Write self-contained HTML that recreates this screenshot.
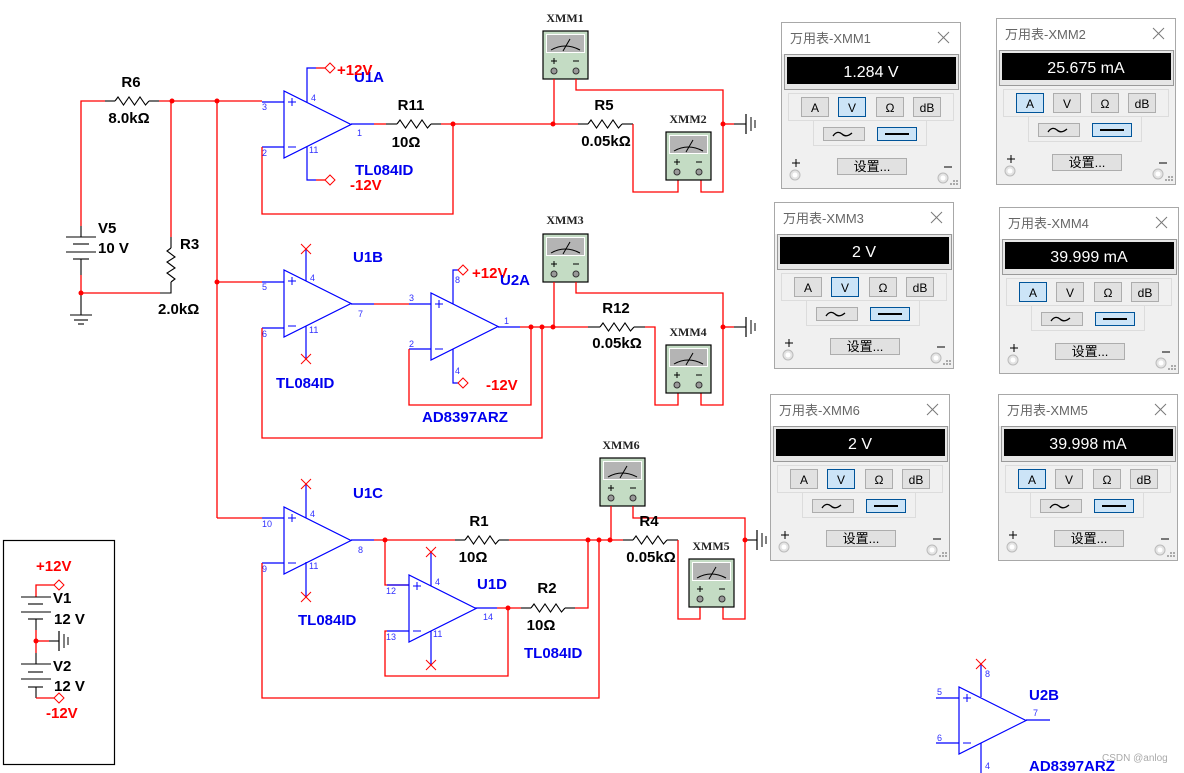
<!DOCTYPE html>
<html><head><meta charset="utf-8"><style>
html,body{margin:0;padding:0;background:#fff;}
svg{display:block;}
.w{stroke:#f00;stroke-width:1.3;fill:none}
.b{stroke:#00f;stroke-width:1.2;fill:none}
.k{stroke:#000;stroke-width:1.1;fill:none}
.lb{font-family:"Liberation Sans",sans-serif;font-weight:bold;font-size:15px;fill:#000}
.bl{font-family:"Liberation Sans",sans-serif;font-weight:bold;font-size:15px;fill:#0000ee}
.rd{font-family:"Liberation Sans",sans-serif;font-weight:bold;font-size:15px;fill:#f00}
.pn{font-family:"Liberation Sans",sans-serif;font-size:9px;fill:#3030ff}
.xm{font-family:"Liberation Serif",serif;font-weight:bold;font-size:12px;fill:#222}
.pt{font-family:"Liberation Sans","Noto Sans CJK SC",sans-serif;font-size:13px;fill:#666}
.pv{font-family:"Liberation Sans",sans-serif;font-size:16px;fill:#fff}
.bt{font-family:"Liberation Sans",sans-serif;font-size:12px;fill:#000}
.st{font-family:"Liberation Sans","Noto Sans CJK SC",sans-serif;font-size:13px;fill:#000}
</style></head><body>
<svg width="1184" height="773" viewBox="0 0 1184 773" xmlns="http://www.w3.org/2000/svg">
<defs>
<polyline id="rz" points="0,0 3,-4 8.5,4 14,-4 19.5,4 25,-4 30.5,4 34,0" fill="none" stroke="#000" stroke-width="1.1"/>
<g id="oa"><polygon points="0,0 0,67 67,33.5" fill="none" stroke="#00f" stroke-width="1.2"/>
<line x1="4" y1="11" x2="12" y2="11" stroke="#00f"/><line x1="8" y1="7" x2="8" y2="15" stroke="#00f"/>
<line x1="4" y1="56" x2="12" y2="56" stroke="#00f"/></g>
<g id="mm"><rect x="0" y="0" width="45" height="48" fill="#c4dcc4" stroke="#000" stroke-width="1.2"/>
<rect x="3.5" y="3.5" width="38" height="18" fill="#b4b4b4" stroke="#fff" stroke-width="1"/>
<path d="M8,19 Q22,11 37,19" fill="none" stroke="#000"/><line x1="20" y1="20" x2="27" y2="8" stroke="#000"/>
<line x1="8" y1="30" x2="14" y2="30" stroke="#000"/><line x1="11" y1="27" x2="11" y2="33" stroke="#000"/>
<line x1="30" y1="30" x2="36" y2="30" stroke="#000"/>
<circle cx="11" cy="40" r="3" fill="#999" stroke="#333"/><circle cx="33" cy="40" r="3" fill="#999" stroke="#333"/></g>
<g id="gnd"><line x1="0" y1="-10" x2="0" y2="10" stroke="#000" stroke-width="1.2"/><line x1="5" y1="-7" x2="5" y2="7" stroke="#000"/><line x1="9" y1="-4" x2="9" y2="4" stroke="#000"/></g>
<g id="xr"><line x1="-5" y1="-5" x2="5" y2="5" stroke="#f00"/><line x1="5" y1="-5" x2="-5" y2="5" stroke="#f00"/></g>
<polygon id="dm" points="0,0 5,-5 10,0 5,5" fill="#fff" stroke="#f00"/>
<g id="pb">
<rect x="0.5" y="0.5" width="179" height="166" fill="#f0f0f0" stroke="#a8a8a8"/>
<rect x="1" y="1" width="178" height="31" fill="#fff"/>
<line x1="157" y1="10" x2="168" y2="21" stroke="#777"/><line x1="168" y1="10" x2="157" y2="21" stroke="#777"/>
<rect x="3.5" y="32.5" width="174" height="35" fill="#e6e6e6" stroke="#999"/>
<rect x="6" y="35" width="169" height="27" fill="#000"/>
<rect x="7.5" y="71.5" width="165" height="27" fill="none" stroke="#dcdcdc"/>
<rect x="32.5" y="98.5" width="113" height="25" fill="none" stroke="#dcdcdc"/>
<rect x="20.5" y="75.5" width="27" height="19" fill="#e1e1e1" stroke="#adadad"/>
<rect x="57.5" y="75.5" width="27" height="19" fill="#e1e1e1" stroke="#adadad"/>
<rect x="95.5" y="75.5" width="27" height="19" fill="#e1e1e1" stroke="#adadad"/>
<rect x="132.5" y="75.5" width="27" height="19" fill="#e1e1e1" stroke="#adadad"/>
<rect x="42.5" y="105.5" width="41" height="13" fill="#e1e1e1" stroke="#adadad"/>
<path d="M52,114 q4,-6 9,-2 q4,4 10,-1" fill="none" stroke="#000" stroke-width="1.3"/>
<rect x="96.5" y="105.5" width="39" height="13" fill="#cce4f7" stroke="#005499"/>
<line x1="104" y1="112" x2="128" y2="112" stroke="#000" stroke-width="2"/>
<rect x="56.5" y="136.5" width="69" height="16" fill="#e1e1e1" stroke="#adadad"/>
<line x1="11" y1="141" x2="19" y2="141" stroke="#000"/><line x1="15" y1="137" x2="15" y2="145" stroke="#000"/>
<circle cx="14" cy="153" r="5" fill="#e4e4e4" stroke="#bbb"/><circle cx="14" cy="153" r="2.5" fill="#fff"/>
<line x1="163" y1="145" x2="171" y2="145" stroke="#000"/>
<circle cx="162" cy="156" r="5" fill="#e4e4e4" stroke="#bbb"/><circle cx="162" cy="156" r="2.5" fill="#fff"/>
<g fill="#aaa"><rect x="172" y="158" width="2" height="2"/><rect x="175" y="158" width="2" height="2"/><rect x="169" y="161" width="2" height="2"/><rect x="172" y="161" width="2" height="2"/><rect x="175" y="161" width="2" height="2"/></g>
</g>
</defs>

<!-- Panels -->
<g transform="translate(781,22)"><use href="#pb"/><rect x="57.5" y="75.5" width="27" height="19" fill="#cce4f7" stroke="#005499"/>
<text class="pt" x="9" y="21">万用表-XMM1</text><text class="pv" x="90" y="55" text-anchor="middle">1.284 V</text>
<text class="bt" x="34" y="90" text-anchor="middle">A</text><text class="bt" x="71" y="90" text-anchor="middle">V</text><text class="bt" x="109" y="90" text-anchor="middle">Ω</text><text class="bt" x="146" y="90" text-anchor="middle">dB</text>
<text class="st" x="91" y="149" text-anchor="middle">设置...</text></g>
<g transform="translate(996,18)"><use href="#pb"/><rect x="20.5" y="75.5" width="27" height="19" fill="#cce4f7" stroke="#005499"/>
<text class="pt" x="9" y="21">万用表-XMM2</text><text class="pv" x="90" y="55" text-anchor="middle">25.675 mA</text>
<text class="bt" x="34" y="90" text-anchor="middle">A</text><text class="bt" x="71" y="90" text-anchor="middle">V</text><text class="bt" x="109" y="90" text-anchor="middle">Ω</text><text class="bt" x="146" y="90" text-anchor="middle">dB</text>
<text class="st" x="91" y="149" text-anchor="middle">设置...</text></g>
<g transform="translate(774,202)"><use href="#pb"/><rect x="57.5" y="75.5" width="27" height="19" fill="#cce4f7" stroke="#005499"/>
<text class="pt" x="9" y="21">万用表-XMM3</text><text class="pv" x="90" y="55" text-anchor="middle">2 V</text>
<text class="bt" x="34" y="90" text-anchor="middle">A</text><text class="bt" x="71" y="90" text-anchor="middle">V</text><text class="bt" x="109" y="90" text-anchor="middle">Ω</text><text class="bt" x="146" y="90" text-anchor="middle">dB</text>
<text class="st" x="91" y="149" text-anchor="middle">设置...</text></g>
<g transform="translate(999,207)"><use href="#pb"/><rect x="20.5" y="75.5" width="27" height="19" fill="#cce4f7" stroke="#005499"/>
<text class="pt" x="9" y="21">万用表-XMM4</text><text class="pv" x="90" y="55" text-anchor="middle">39.999 mA</text>
<text class="bt" x="34" y="90" text-anchor="middle">A</text><text class="bt" x="71" y="90" text-anchor="middle">V</text><text class="bt" x="109" y="90" text-anchor="middle">Ω</text><text class="bt" x="146" y="90" text-anchor="middle">dB</text>
<text class="st" x="91" y="149" text-anchor="middle">设置...</text></g>
<g transform="translate(770,394)"><use href="#pb"/><rect x="57.5" y="75.5" width="27" height="19" fill="#cce4f7" stroke="#005499"/>
<text class="pt" x="9" y="21">万用表-XMM6</text><text class="pv" x="90" y="55" text-anchor="middle">2 V</text>
<text class="bt" x="34" y="90" text-anchor="middle">A</text><text class="bt" x="71" y="90" text-anchor="middle">V</text><text class="bt" x="109" y="90" text-anchor="middle">Ω</text><text class="bt" x="146" y="90" text-anchor="middle">dB</text>
<text class="st" x="91" y="149" text-anchor="middle">设置...</text></g>
<g transform="translate(998,394)"><use href="#pb"/><rect x="20.5" y="75.5" width="27" height="19" fill="#cce4f7" stroke="#005499"/>
<text class="pt" x="9" y="21">万用表-XMM5</text><text class="pv" x="90" y="55" text-anchor="middle">39.998 mA</text>
<text class="bt" x="34" y="90" text-anchor="middle">A</text><text class="bt" x="71" y="90" text-anchor="middle">V</text><text class="bt" x="109" y="90" text-anchor="middle">Ω</text><text class="bt" x="146" y="90" text-anchor="middle">dB</text>
<text class="st" x="91" y="149" text-anchor="middle">设置...</text></g>

<!-- Input network -->
<polyline class="w" points="81,226 81,101 105,101"/>
<line class="k" x1="105" y1="101" x2="115" y2="101"/><use href="#rz" x="115" y="101"/><line class="k" x1="149" y1="101" x2="159" y2="101"/>
<line class="w" x1="159" y1="101" x2="262" y2="101"/>
<text class="lb" x="131" y="87" text-anchor="middle">R6</text><text class="lb" x="129" y="123" text-anchor="middle">8.0kΩ</text>
<line class="k" x1="81" y1="226" x2="81" y2="237"/>
<line class="k" x1="66" y1="237" x2="96" y2="237"/><line class="k" x1="73" y1="244" x2="89" y2="244"/>
<line class="k" x1="66" y1="252" x2="96" y2="252"/><line class="k" x1="73" y1="259" x2="89" y2="259"/>
<line class="k" x1="81" y1="259" x2="81" y2="275"/><line class="w" x1="81" y1="275" x2="81" y2="293"/>
<line class="k" x1="81" y1="293" x2="81" y2="315"/>
<line class="k" x1="70" y1="315" x2="92" y2="315"/><line class="k" x1="74" y1="320" x2="88" y2="320"/><line class="k" x1="78" y1="324" x2="84" y2="324"/>
<text class="lb" x="98" y="233">V5</text><text class="lb" x="98" y="253">10 V</text>
<polyline class="w" points="171,101 171,237"/>
<line class="k" x1="171" y1="237" x2="171" y2="248"/>
<polyline points="171,248 167,251 175,257 167,262 175,268 167,273 175,279 171,282" fill="none" stroke="#000" stroke-width="1.1"/>
<polyline class="k" points="171,282 171,293 160,293"/><line class="w" x1="160" y1="293" x2="81" y2="293"/>
<text class="lb" x="180" y="249">R3</text><text class="lb" x="158" y="314">2.0kΩ</text>
<line class="w" x1="217" y1="101" x2="217" y2="518"/>
<circle cx="172" cy="101" r="2.5" fill="#f00"/><circle cx="217" cy="101" r="2.5" fill="#f00"/><circle cx="81" cy="293" r="2.5" fill="#f00"/><circle cx="217" cy="282" r="2.5" fill="#f00"/>

<!-- U1A -->
<use href="#oa" x="284" y="91"/>
<line class="b" x1="262" y1="102" x2="284" y2="102"/><line class="b" x1="262" y1="147" x2="284" y2="147"/>
<polyline class="b" points="307,102 307,68 316,68"/><line class="w" x1="316" y1="68" x2="325" y2="68"/><use href="#dm" x="325" y="68"/>
<polyline class="b" points="307,147 307,180 316,180"/><line class="w" x1="316" y1="180" x2="325" y2="180"/><use href="#dm" x="325" y="180"/>
<text class="bl" x="354" y="82">U1A</text><text class="rd" x="337" y="75">+12V</text>
<text class="bl" x="355" y="175">TL084ID</text><text class="rd" x="350" y="190">-12V</text>
<text class="pn" x="262" y="110">3</text><text class="pn" x="262" y="156">2</text><text class="pn" x="311" y="101">4</text><text class="pn" x="309" y="153">11</text><text class="pn" x="357" y="136">1</text>
<line class="b" x1="351" y1="124" x2="374" y2="124"/><line class="w" x1="374" y1="124" x2="386" y2="124"/>
<line class="k" x1="386" y1="124" x2="397" y2="124"/><use href="#rz" x="397" y="124"/><line class="k" x1="431" y1="124" x2="441" y2="124"/>
<line class="w" x1="441" y1="124" x2="578" y2="124"/>
<polyline class="w" points="262,147 262,214 453,214 453,124"/>
<text class="lb" x="411" y="110" text-anchor="middle">R11</text><text class="lb" x="406" y="147" text-anchor="middle">10Ω</text>
<circle cx="453" cy="124" r="2.5" fill="#f00"/><circle cx="553" cy="124" r="2.5" fill="#f00"/>
<!-- XMM1/2 -->
<use href="#mm" x="543" y="31"/><text class="xm" x="565" y="22" text-anchor="middle">XMM1</text>
<line class="w" x1="554" y1="79" x2="554" y2="124"/>
<polyline class="w" points="576,79 576,90 723,90 723,192 701,192 701,179"/>
<line class="k" x1="578" y1="124" x2="588" y2="124"/><use href="#rz" x="588" y="124"/><line class="k" x1="622" y1="124" x2="633" y2="124"/>
<polyline class="w" points="633,124 633,192 678,192 678,179"/>
<use href="#mm" x="666" y="132"/><text class="xm" x="688" y="123" text-anchor="middle">XMM2</text>
<line class="w" x1="723" y1="124" x2="734" y2="124"/><line class="k" x1="734" y1="124" x2="746" y2="124"/><use href="#gnd" x="746" y="124"/>
<circle cx="723" cy="124" r="2.5" fill="#f00"/>
<text class="lb" x="604" y="110" text-anchor="middle">R5</text><text class="lb" x="606" y="146" text-anchor="middle">0.05kΩ</text>

<!-- U1B -->
<line class="w" x1="217" y1="282" x2="262" y2="282"/>
<use href="#oa" x="284" y="270"/>
<line class="b" x1="262" y1="282" x2="284" y2="282"/><line class="b" x1="262" y1="328" x2="284" y2="328"/>
<line class="b" x1="306" y1="281" x2="306" y2="249"/><use href="#xr" x="306" y="249"/>
<line class="b" x1="306" y1="326" x2="306" y2="359"/><use href="#xr" x="306" y="359"/>
<text class="bl" x="353" y="262">U1B</text><text class="bl" x="276" y="388">TL084ID</text>
<text class="pn" x="262" y="290">5</text><text class="pn" x="262" y="337">6</text><text class="pn" x="310" y="281">4</text><text class="pn" x="309" y="333">11</text><text class="pn" x="358" y="317">7</text>
<line class="b" x1="351" y1="304" x2="374" y2="304"/><line class="w" x1="374" y1="304" x2="409" y2="304"/><line class="b" x1="409" y1="304" x2="431" y2="304"/>
<polyline class="w" points="262,328 262,438 542,438 542,327"/>
<!-- U2A -->
<use href="#oa" x="431" y="293"/>
<line class="b" x1="409" y1="349" x2="431" y2="349"/>
<polyline class="b" points="453,304 453,270 458,270"/><use href="#dm" x="458" y="270"/>
<polyline class="b" points="453,349 453,383 458,383"/><use href="#dm" x="458" y="383"/>
<text class="rd" x="472" y="278">+12V</text><text class="bl" x="500" y="285">U2A</text>
<text class="rd" x="486" y="390">-12V</text><text class="bl" x="422" y="422">AD8397ARZ</text>
<text class="pn" x="409" y="301">3</text><text class="pn" x="409" y="347">2</text><text class="pn" x="455" y="283">8</text><text class="pn" x="455" y="374">4</text><text class="pn" x="504" y="324">1</text>
<line class="b" x1="498" y1="327" x2="520" y2="327"/><line class="w" x1="520" y1="327" x2="588" y2="327"/>
<polyline class="w" points="531,327 531,405 409,405 409,349"/>
<circle cx="531" cy="327" r="2.5" fill="#f00"/><circle cx="542" cy="327" r="2.5" fill="#f00"/><circle cx="553" cy="327" r="2.5" fill="#f00"/>
<!-- XMM3/4 -->
<use href="#mm" x="543" y="234"/><text class="xm" x="565" y="224" text-anchor="middle">XMM3</text>
<line class="w" x1="554" y1="282" x2="554" y2="327"/>
<polyline class="w" points="576,282 576,293 723,293 723,405 701,405 701,392"/>
<line class="k" x1="588" y1="327" x2="600" y2="327"/><use href="#rz" x="600" y="327"/><line class="k" x1="634" y1="327" x2="645" y2="327"/>
<polyline class="w" points="645,327 655,327 655,405 678,405 678,392"/>
<use href="#mm" x="666" y="345"/><text class="xm" x="688" y="336" text-anchor="middle">XMM4</text>
<line class="w" x1="723" y1="327" x2="734" y2="327"/><line class="k" x1="734" y1="327" x2="746" y2="327"/><use href="#gnd" x="746" y="327"/>
<circle cx="723" cy="327" r="2.5" fill="#f00"/>
<text class="lb" x="616" y="313" text-anchor="middle">R12</text><text class="lb" x="617" y="348" text-anchor="middle">0.05kΩ</text>

<!-- U1C -->
<line class="w" x1="217" y1="518" x2="262" y2="518"/>
<use href="#oa" x="284" y="507"/>
<line class="b" x1="262" y1="518" x2="284" y2="518"/><line class="b" x1="262" y1="563" x2="284" y2="563"/>
<line class="b" x1="306" y1="518" x2="306" y2="484"/><use href="#xr" x="306" y="484"/>
<line class="b" x1="306" y1="562" x2="306" y2="597"/><use href="#xr" x="306" y="597"/>
<text class="bl" x="353" y="498">U1C</text><text class="bl" x="298" y="625">TL084ID</text>
<text class="pn" x="262" y="527">10</text><text class="pn" x="262" y="572">9</text><text class="pn" x="310" y="517">4</text><text class="pn" x="309" y="569">11</text><text class="pn" x="358" y="553">8</text>
<line class="b" x1="351" y1="540" x2="374" y2="540"/><line class="w" x1="374" y1="540" x2="455" y2="540"/>
<line class="k" x1="455" y1="540" x2="465" y2="540"/><use href="#rz" x="465" y="540"/><line class="k" x1="499" y1="540" x2="509" y2="540"/>
<line class="w" x1="509" y1="540" x2="623" y2="540"/>
<text class="lb" x="479" y="526" text-anchor="middle">R1</text><text class="lb" x="473" y="562" text-anchor="middle">10Ω</text>
<circle cx="385" cy="540" r="2.5" fill="#f00"/>
<polyline class="w" points="385,540 385,585 409,585"/>
<polyline class="w" points="262,563 262,698 599,698 599,540"/>
<!-- U1D -->
<use href="#oa" x="409" y="575"/>
<line class="b" x1="387" y1="585" x2="409" y2="585"/><line class="b" x1="387" y1="631" x2="409" y2="631"/>
<line class="b" x1="431" y1="586" x2="431" y2="552"/><use href="#xr" x="431" y="552"/>
<line class="b" x1="431" y1="631" x2="431" y2="665"/><use href="#xr" x="431" y="665"/>
<text class="pn" x="386" y="594">12</text><text class="pn" x="386" y="640">13</text><text class="pn" x="435" y="585">4</text><text class="pn" x="433" y="637">11</text><text class="pn" x="483" y="620">14</text>
<text class="bl" x="477" y="589">U1D</text><text class="bl" x="524" y="658">TL084ID</text>
<line class="b" x1="475" y1="608" x2="497" y2="608"/><line class="w" x1="497" y1="608" x2="521" y2="608"/>
<line class="k" x1="521" y1="608" x2="531" y2="608"/><use href="#rz" x="531" y="608"/><line class="k" x1="565" y1="608" x2="575" y2="608"/>
<polyline class="w" points="575,608 588,608 588,540"/>
<polyline class="w" points="508,608 508,676 385,676 385,631 387,631"/>
<circle cx="508" cy="608" r="2.5" fill="#f00"/>
<text class="lb" x="547" y="593" text-anchor="middle">R2</text><text class="lb" x="541" y="630" text-anchor="middle">10Ω</text>
<circle cx="588" cy="540" r="2.5" fill="#f00"/><circle cx="599" cy="540" r="2.5" fill="#f00"/><circle cx="610" cy="540" r="2.5" fill="#f00"/>
<!-- XMM6/5 -->
<use href="#mm" x="600" y="458"/><text class="xm" x="621" y="449" text-anchor="middle">XMM6</text>
<line class="w" x1="611" y1="506" x2="611" y2="540"/>
<polyline class="w" points="633,506 633,518 745,518 745,619 723,619 723,606"/>
<line class="k" x1="623" y1="540" x2="633" y2="540"/><use href="#rz" x="633" y="540"/><line class="k" x1="667" y1="540" x2="678" y2="540"/>
<polyline class="w" points="678,540 678,619 700,619 700,606"/>
<use href="#mm" x="689" y="559"/><text class="xm" x="711" y="550" text-anchor="middle">XMM5</text>
<line class="k" x1="745" y1="540" x2="757" y2="540"/><use href="#gnd" x="757" y="540"/>
<circle cx="745" cy="540" r="2.5" fill="#f00"/>
<text class="lb" x="649" y="526" text-anchor="middle">R4</text><text class="lb" x="651" y="562" text-anchor="middle">0.05kΩ</text>

<!-- Power box -->
<rect x="3.5" y="540.5" width="111" height="224" fill="none" stroke="#000" stroke-width="1.2"/>
<text class="rd" x="36" y="571">+12V</text>
<polyline class="w" points="54,585 36,585 36,597"/><use href="#dm" x="54" y="585"/>
<line class="k" x1="21" y1="597" x2="51" y2="597"/><line class="k" x1="28" y1="604" x2="43" y2="604"/>
<line class="k" x1="21" y1="612" x2="51" y2="612"/><line class="k" x1="28" y1="619" x2="43" y2="619"/>
<line class="k" x1="36" y1="619" x2="36" y2="630"/><line class="w" x1="36" y1="630" x2="36" y2="653"/>
<line class="k" x1="36" y1="653" x2="36" y2="664"/>
<line class="w" x1="36" y1="641" x2="49" y2="641"/><line class="k" x1="49" y1="641" x2="59" y2="641"/><use href="#gnd" x="59" y="641"/>
<circle cx="36" cy="641" r="2.5" fill="#f00"/>
<text class="lb" x="53" y="603">V1</text><text class="lb" x="54" y="624">12 V</text>
<line class="k" x1="21" y1="664" x2="51" y2="664"/><line class="k" x1="28" y1="672" x2="43" y2="672"/>
<line class="k" x1="21" y1="679" x2="51" y2="679"/><line class="k" x1="28" y1="687" x2="43" y2="687"/>
<line class="k" x1="36" y1="687" x2="36" y2="698"/>
<polyline class="w" points="36,698 54,698"/><use href="#dm" x="54" y="698"/>
<text class="lb" x="53" y="671">V2</text><text class="lb" x="54" y="691">12 V</text>
<text class="rd" x="46" y="718">-12V</text>

<!-- U2B -->
<use href="#oa" x="959" y="687"/>
<line class="b" x1="936" y1="698" x2="959" y2="698"/><line class="b" x1="936" y1="743" x2="959" y2="743"/>
<line class="b" x1="981" y1="697" x2="981" y2="664"/><use href="#xr" x="981" y="664"/>
<line class="b" x1="981" y1="743" x2="981" y2="773"/>
<line class="b" x1="1026" y1="720" x2="1050" y2="720"/>
<text class="pn" x="937" y="695">5</text><text class="pn" x="937" y="741">6</text><text class="pn" x="1033" y="716">7</text><text class="pn" x="985" y="677">8</text><text class="pn" x="985" y="769">4</text>
<text class="bl" x="1029" y="700">U2B</text><text class="bl" x="1029" y="771">AD8397ARZ</text>
<text x="1102" y="761" font-family="Liberation Sans,sans-serif" font-size="10" fill="#aaa">CSDN @anlog</text>
</svg>
</body></html>
